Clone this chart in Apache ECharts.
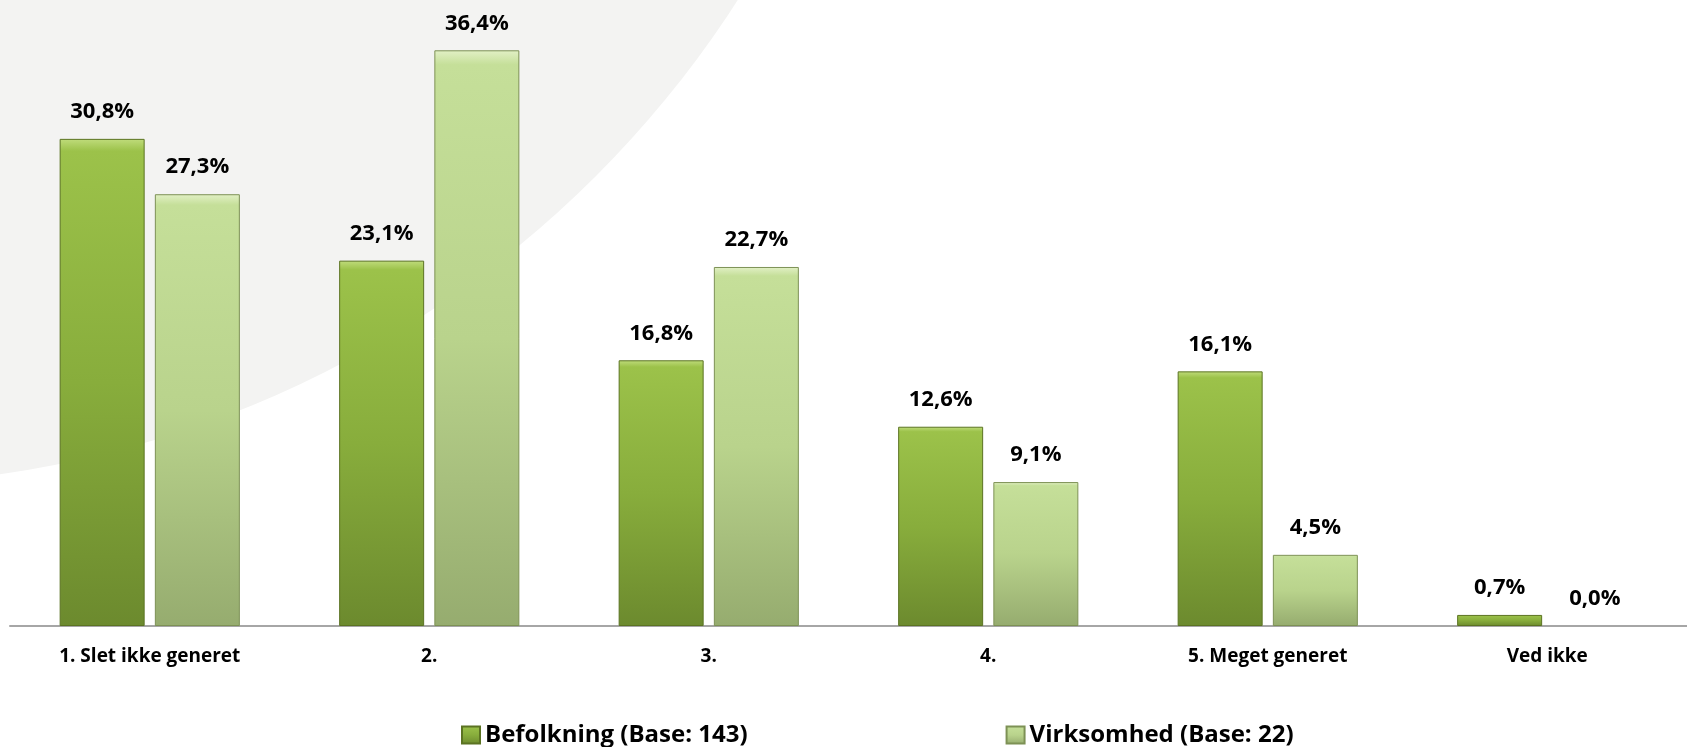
<!DOCTYPE html>
<html>
<head>
<meta charset="utf-8">
<script src="https://cdn.jsdelivr.net/npm/echarts@6/dist/echarts.min.js"></script>
<style>
  html, body { margin: 0; padding: 0; background: #fff; }
  #main { width: 1687px; height: 747px; }
</style>
</head>
<body>
<div id="main"></div>
<script>
var categories = ['1. Slet ikke generet', '2.', '3.', '4.', '5. Meget generet', 'Ved ikke']
var befolkning = [30.8, 23.1, 16.8, 12.6, 16.1, 0.7]
var virksomhed = [27.3, 36.4, 22.7, 9.1, 4.5, 0.0]
var seriesNames = ['Befolkning (Base: 143)', 'Virksomhed (Base: 22)']

var myChart = echarts.init(document.getElementById('main'))

function grad(stops) {
  return new echarts.graphic.LinearGradient(0, 0, 0, 1, stops)
}

function fmt(p) {
  return p.value.toFixed(1).replace('.', ',') + '%'
}

// zero bars get no border, so nothing shows on the axis
function toData(arr) {
  return arr.map(function(v) {
    return v === 0 ? { value: v, itemStyle: { borderWidth: 0, borderColor: 'transparent' } } : v
  })
}

var font = 'Open Sans'

var labelStyle = {
  show: true,
  position: 'top',
  distance: 16,
  formatter: fmt,
  color: '#000',
  fontFamily: font,
  fontWeight: 700,
  fontSize: 22
}

var option = {
  backgroundColor: '#ffffff',
  animation: false,
  // the big grey disc behind the upper left part
  graphic: [{
    type: 'circle',
    z: -10,
    shape: { cx: -150, cy: -570, r: 1055 },
    style: { fill: '#f3f3f2' },
    silent: true
  }],
  legend: {
    data: seriesNames,
    icon: 'rect',
    left: 456,
    top: 718,
    itemGap: 258,
    itemWidth: 18,
    itemHeight: 17,
    textStyle: { fontFamily: font, fontWeight: 700, fontSize: 24, color: '#000' }
  },
  grid: { left: 10, right: -5, top: 25, bottom: 121 },
  xAxis: {
    type: 'category',
    data: categories,
    axisLine: { lineStyle: { color: '#a6a6a6', width: 2 } },
    axisTick: { show: false },
    axisLabel: {
      margin: 21,
      color: '#000',
      fontFamily: font,
      fontWeight: 700,
      fontSize: 19
    }
  },
  yAxis: {
    type: 'value',
    min: 0,
    max: 38,
    show: false,
    splitLine: { show: false }
  },
  series: [
    {
      name: seriesNames[0],
      type: 'bar',
      data: toData(befolkning),
      barWidth: 85,
      barGap: '12%',
      itemStyle: {
        color: grad([
          { offset: 0, color: '#c0dc7c' },
          { offset: 0.025, color: '#9cc24a' },
          { offset: 0.5, color: '#88ad3c' },
          { offset: 1, color: '#6c8a2e' }
        ]),
        borderColor: '#5b7322',
        borderWidth: 1
      },
      label: labelStyle
    },
    {
      name: seriesNames[1],
      type: 'bar',
      data: toData(virksomhed),
      barWidth: 85,
      itemStyle: {
        color: grad([
          { offset: 0, color: '#e2f0c6' },
          { offset: 0.025, color: '#c5df99' },
          { offset: 0.5, color: '#b9d38c' },
          { offset: 1, color: '#96ac6f' }
        ]),
        borderColor: '#7d9155',
        borderWidth: 1
      },
      label: labelStyle
    }
  ]
}

myChart.setOption(option)
</script>
</body>
</html>
